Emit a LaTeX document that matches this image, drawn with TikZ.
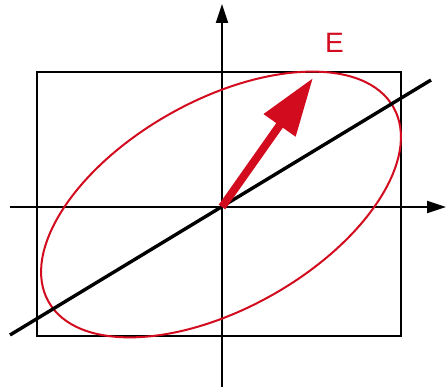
\documentclass[tikz,border=0pt]{standalone}
\usepackage{fontspec}
\setmainfont{Liberation Sans}
\usetikzlibrary{arrows.meta}
\definecolor{ered}{RGB}{210,12,30}
\begin{document}
\begin{tikzpicture}[x=1pt,y=1pt,
  axis/.style={line width=2.2pt,-{Triangle[length=19pt,width=12pt]}},
  frame/.style={line width=2.2pt},
  pol/.style={line width=3.4pt},
  ell/.style={draw=ered,line width=2pt},
  evec/.style={ered,line width=8pt,-{Triangle[length=58pt,width=37pt]}}]
\useasboundingbox (0,0) rectangle (447,387);
\coordinate (O) at (222,180);
\coordinate (C) at (221,182.5);
\coordinate (xa0) at (10,180);
\coordinate (xa1) at (446,180);
\coordinate (ya0) at (222,0);
\coordinate (ya1) at (222,383);
\coordinate (r0) at (37,51);
\coordinate (r1) at (401,315);
\coordinate (l0) at (10,52);
\coordinate (l1) at (431,307);
\coordinate (tip) at (313,309);
\draw[frame] (r0) rectangle (r1);
\draw[axis] (xa0) -- (xa1);
\draw[axis] (ya0) -- (ya1);
\draw[ell] (C) ellipse [x radius=198pt, y radius=104pt, rotate=29.4];
\draw[pol] (l0) -- (l1);
\draw[evec] (O) -- (tip);
\node[text=ered,font=\fontsize{28}{30}\selectfont,inner sep=0pt] (E) at (334.5,344.5) {E};
\end{tikzpicture}
\end{document}
